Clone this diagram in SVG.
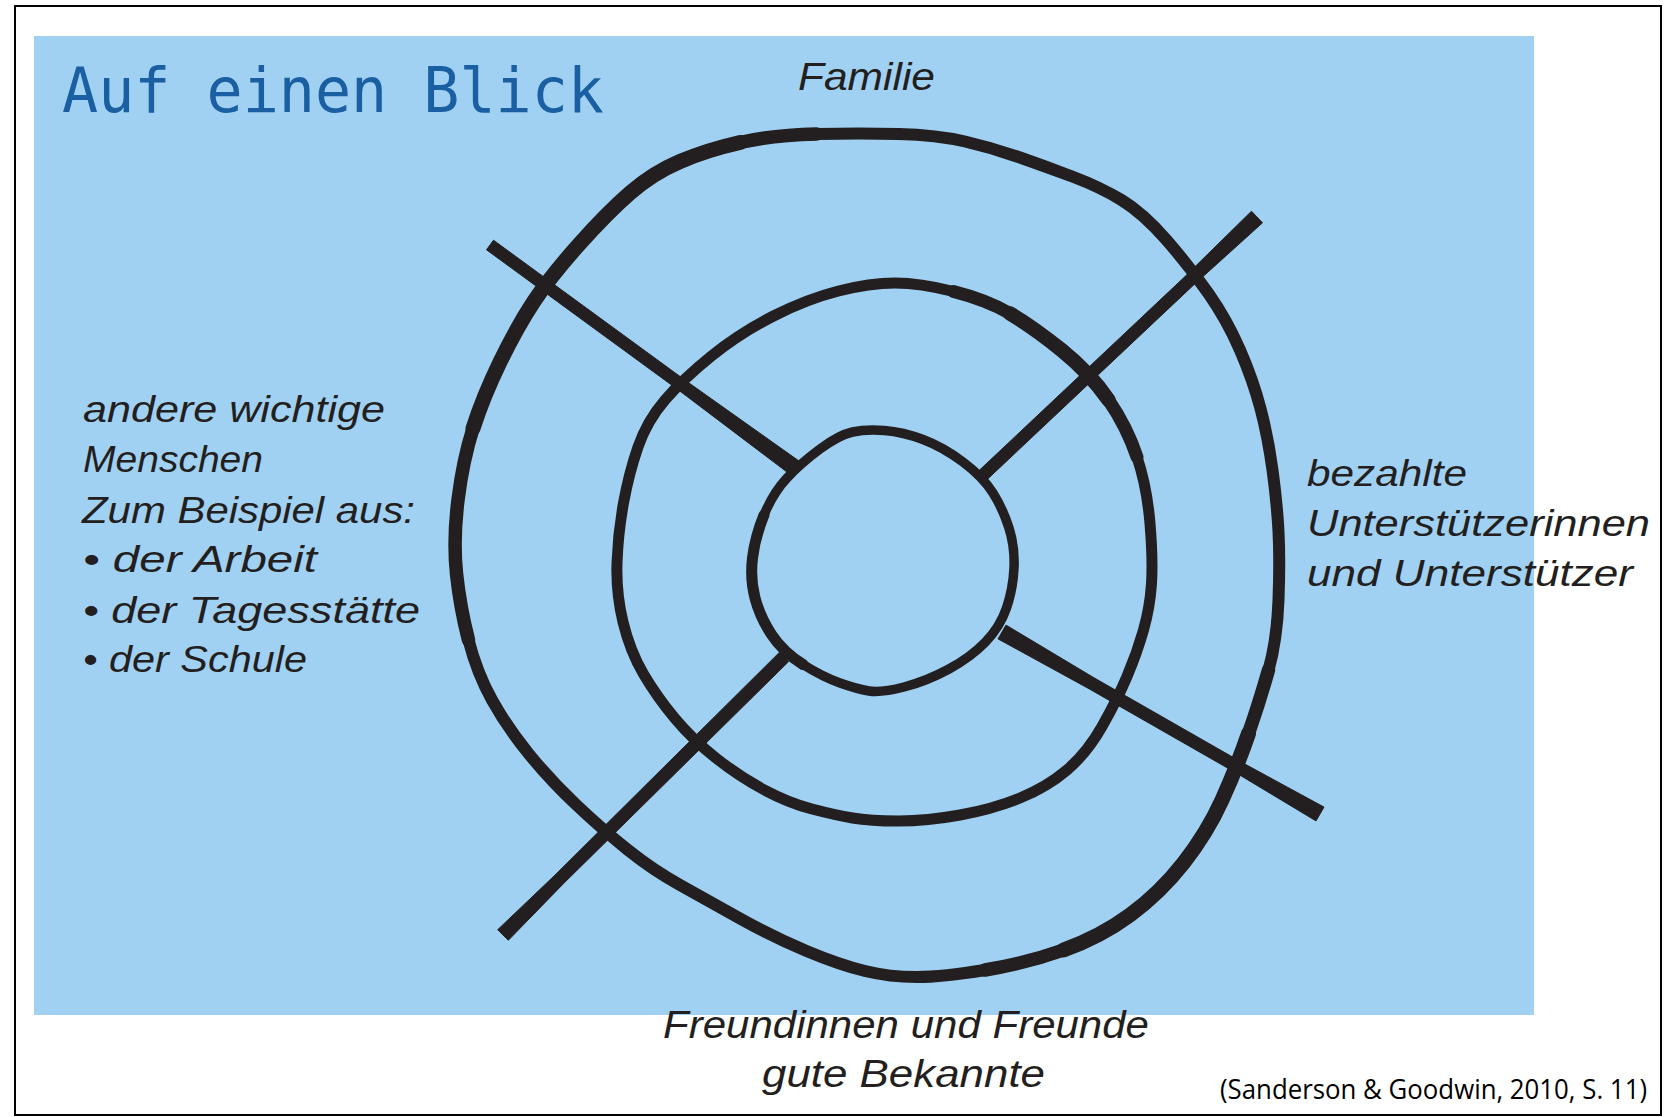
<svg xmlns="http://www.w3.org/2000/svg" width="1670" height="1117" viewBox="0 0 1670 1117">
  <style>
    .ring { fill: none; stroke: #231f20; stroke-linejoin: round; stroke-linecap: round; }
    .spoke { fill: #231f20; stroke: #231f20; stroke-width: 1; stroke-linejoin: round; }
    .hand { font-family: "Liberation Sans", "DejaVu Sans", sans-serif; font-style: italic; fill: #231f20; }
    .title { font-family: "DejaVu Sans Mono", "Liberation Mono", monospace; fill: #1b5fa3; font-size: 62px; }
    .cite { font-family: "Open Sans", "Liberation Sans", sans-serif; fill: #000; font-size: 27px; }
  </style>
  <rect x="0" y="0" width="1670" height="1117" fill="#ffffff"/>
  <rect id="frame" x="15" y="6" width="1646" height="1109" fill="none" stroke="#000" stroke-width="2"/>
  <rect id="panel" x="34" y="36" width="1500" height="979" fill="#a1d1f2"/>

  <g id="title">
    <text class="title" x="62" y="112" textLength="542" lengthAdjust="spacingAndGlyphs">Auf einen Blick</text>
  </g>

  <g id="spokes">
    <polygon class="spoke" points="486.5,249.8 679.5,390.8 790.3,474.5 799.7,461.5 686.5,381.2 493.5,240.2"/>
    <polygon class="spoke" points="1251.5,211.2 1183.9,277.6 976.9,472.6 985.1,481.4 1192.1,286.4 1262.5,222.8"/>
    <polygon class="spoke" points="508.3,940.3 563.4,883.7 788.6,661.6 779.4,652.4 555.0,875.1 497.7,929.7"/>
    <polygon class="spoke" points="998.0,638.9 1088.0,688.2 1237.5,773.7 1316.0,820.9 1324.0,807.1 1243.5,763.3 1094.0,677.8 1006.0,625.1"/>
  </g>

  <g id="rings">
    <g id="outer-ring">
      <path class="ring" stroke-width="12" d="M 816.5,134 Q 860,133 898.5,134 T 965,141.5 T 1020,157.5 T 1073.5,177 T 1121.5,200 T 1166.5,240 T 1208.5,293.5 T 1240,350 T 1260.5,408.5 T 1272.5,470 T 1278.5,531.5 T 1278.5,600 T 1268.5,670 T 1248.5,733.5 T 1222,800 T 1183.5,863 T 1130,915 T 1063.5,950 T 985,970 T 916.5,977 T 865,971 T 806.5,951 T 740,918.5 T 680,885 T 628,850 T 576.5,805 T 528.5,753.5 T 492,700 T 468.5,640 T 456.5,573.5 T 458,500 T 473,428.5 T 500,362 T 533.5,302 T 578.5,245 T 630,193 T 680,161.5 T 740,142.5 T 816.5,134 Z"/>
      <path class="ring" stroke-width="13.5" d="M 468.5,640 Q 460,607 456.5,573.5 T 458,500 T 473,428.5 T 500,362 T 533.5,302 T 578.5,245 T 630,193 T 680,161.5 T 740,142.5 T 816.5,134"/>
      <path class="ring" stroke-width="15" d="M 473,428.5 Q 483,397 500,362 T 533.5,302 T 578.5,245 T 630,193 T 680,161.5 T 740,142.5"/>
      <path class="ring" stroke-width="13.5" d="M 1268.5,670 Q 1260,700 1248.5,733.5 T 1222,800 T 1183.5,863 T 1130,915 T 1063.5,950 T 985,970"/>
      <path class="ring" stroke-width="15" d="M 1248.5,733.5 Q 1237,767 1222,800 T 1183.5,863 T 1130,915 T 1063.5,950"/>
    </g>
    <g id="middle-ring">
      <path class="ring" stroke-width="11" d="M 838.5,291 Q 870,283 895,283 T 953.5,291.5 T 1010,313.5 T 1061.5,350 T 1108.5,400 T 1137,457 T 1150,523.5 T 1151.5,583.5 T 1143.5,630 T 1127,676.5 T 1102,726.5 T 1067,770 T 1020,798 T 960,815 T 898.5,821 T 852.5,818 T 812,809 T 764.5,790 T 716.5,758.5 T 675,718.5 T 643.5,674 T 623,622 T 617,563 T 623.5,503 T 638,447 T 665,400 T 711.5,356 T 773.5,316 T 838.5,291 Z"/>
      <path class="ring" stroke-width="13" d="M 953.5,291.5 Q 987,300 1010,313.5 T 1061.5,350 T 1108.5,400 T 1137,457"/>
      <path class="ring" stroke-width="14.5" d="M 1010,313.5 Q 1033,327 1061.5,350 T 1108.5,400"/>
    </g>
    <g id="inner-ring">
      <path class="ring" stroke-width="9.5" d="M 852.5,432 Q 866,429 884.5,430.5 T 923,439.5 T 963,462 T 993,493 T 1009,528 T 1014,568 T 1006.5,608 T 985.5,642 T 949,669 T 904,687 T 869,691 T 840,683 T 803,664.5 T 771.5,634.5 T 755,598 T 752.5,558 T 764,515 T 787,478 T 820,449 T 852.5,432 Z"/>
      <path class="ring" stroke-width="11" d="M 803,664.5 Q 783,652 771.5,634.5 T 755,598 T 752.5,558 T 764,515"/>
    </g>
  </g>

  <g id="label-familie">
    <text class="hand" x="798" y="90" font-size="39" textLength="137" lengthAdjust="spacingAndGlyphs">Familie</text>
  </g>

  <g id="label-andere">
    <text class="hand" x="83" y="422" font-size="37" textLength="302" lengthAdjust="spacingAndGlyphs">andere wichtige</text>
    <text class="hand" x="83" y="472" font-size="37" textLength="180" lengthAdjust="spacingAndGlyphs">Menschen</text>
    <text class="hand" x="82" y="523" font-size="37" textLength="333" lengthAdjust="spacingAndGlyphs">Zum Beispiel aus:</text>
    <text class="hand" x="83" y="572" font-size="37" textLength="234" lengthAdjust="spacingAndGlyphs">• der Arbeit</text>
    <text class="hand" x="83" y="623" font-size="37" textLength="337" lengthAdjust="spacingAndGlyphs">• der Tagesstätte</text>
    <text class="hand" x="83" y="672" font-size="37" textLength="224" lengthAdjust="spacingAndGlyphs">• der Schule</text>
  </g>

  <g id="label-bezahlte">
    <text class="hand" x="1307" y="486" font-size="37" textLength="160" lengthAdjust="spacingAndGlyphs">bezahlte</text>
    <text class="hand" x="1307" y="536" font-size="37" textLength="343" lengthAdjust="spacingAndGlyphs">Unterstützerinnen</text>
    <text class="hand" x="1307" y="586" font-size="37" textLength="326" lengthAdjust="spacingAndGlyphs">und Unterstützer</text>
  </g>

  <g id="label-freunde">
    <text class="hand" x="663" y="1038" font-size="39" textLength="486" lengthAdjust="spacingAndGlyphs">Freundinnen und Freunde</text>
    <text class="hand" x="762" y="1087" font-size="39" textLength="283" lengthAdjust="spacingAndGlyphs">gute Bekannte</text>
  </g>

  <g id="citation">
    <text class="cite" x="1220" y="1099" textLength="427" lengthAdjust="spacingAndGlyphs">(Sanderson &amp; Goodwin, 2010, S. 11)</text>
  </g>
</svg>
